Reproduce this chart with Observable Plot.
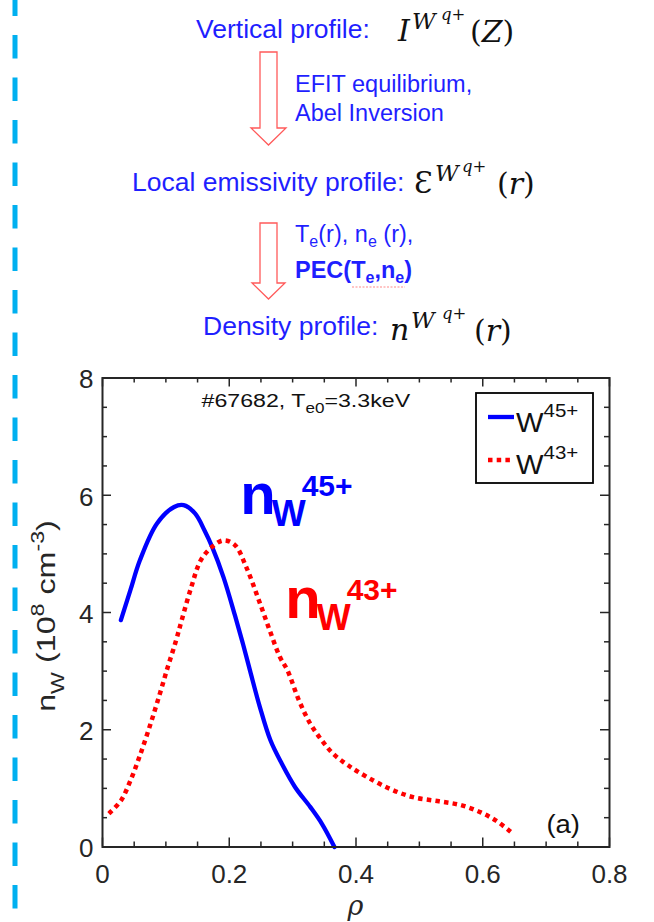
<!DOCTYPE html>
<html>
<head>
<meta charset="utf-8">
<script src="https://cdn.jsdelivr.net/npm/d3@7"></script>
<script src="https://cdn.jsdelivr.net/npm/@observablehq/plot@0.6"></script>
<style>
  html, body { margin: 0; padding: 0; background: #fff; }
  #page { position: relative; width: 654px; height: 922px; overflow: hidden; background: #fff; }
  #rail, #flow { position: absolute; left: 0; top: 0; }
  #chart { position: absolute; left: 0; top: 360px; }
</style>
</head>
<body>
<div id="page">
  <svg id="flow" width="654" height="360"></svg>
  <div id="chart"></div>
  <svg id="rail" width="654" height="922"></svg>
</div>
<script>
// W45+ density profile (solid blue)
const rhoW45 = [0.029, 0.044, 0.059, 0.086, 0.113, 0.128, 0.146, 0.161, 0.173, 0.191, 0.209, 0.222, 0.233, 0.248, 0.265, 0.283, 0.304, 0.328, 0.346, 0.366];
const nW45   = [3.87, 4.38, 4.89, 5.52, 5.80, 5.83, 5.69, 5.40, 5.12, 4.60, 3.95, 3.45, 3.00, 2.40, 1.82, 1.42, 1.02, 0.68, 0.40, 0.00];

// W43+ density profile (dotted red)
const rhoW43 = [0.010, 0.029, 0.044, 0.059, 0.074, 0.089, 0.103, 0.116, 0.125, 0.140, 0.155, 0.173, 0.191, 0.209, 0.227, 0.245, 0.262, 0.280, 0.292, 0.310, 0.328, 0.346, 0.364, 0.388, 0.418, 0.454, 0.490, 0.531, 0.567, 0.597, 0.621, 0.645];
const nW43   = [0.57, 0.79, 1.13, 1.56, 2.04, 2.56, 3.07, 3.52, 3.87, 4.43, 4.89, 5.12, 5.23, 5.15, 4.77, 4.26, 3.75, 3.24, 3.01, 2.50, 2.10, 1.82, 1.59, 1.39, 1.19, 0.99, 0.85, 0.78, 0.71, 0.59, 0.45, 0.25];

// Axis ticks
const xMajor = [0, 0.2, 0.4, 0.6, 0.8];
const xMinor = [0.05, 0.1, 0.15, 0.25, 0.3, 0.35, 0.45, 0.5, 0.55, 0.65, 0.7, 0.75];
const yMajor = [0, 2, 4, 6, 8];
const yMinor = [0.5, 1, 1.5, 2.5, 3, 3.5, 4.5, 5, 5.5, 6.5, 7, 7.5];

const BLUE = "#0000ff", RED = "#ff0000", INK = "#262626", TEXT_BLUE = "#1f1fff";
const SANS = "'Liberation Sans', Arial, Helvetica, sans-serif";
const MATH = "'DejaVu Serif', 'Liberation Serif', serif";

// Append a text element built from styled runs (sub/superscripts via dy shifts)
function rich(parent, opts, runs) {
  const t = parent.append("text")
    .attr("x", opts.x).attr("y", opts.y)
    .attr("text-anchor", opts.anchor || "start")
    .attr("font-family", opts.family || SANS)
    .attr("font-size", opts.size)
    .attr("font-weight", opts.weight || "normal")
    .attr("font-style", opts.style || "normal")
    .attr("fill", opts.fill || INK);
  if (opts.transform) t.attr("transform", opts.transform);
  let shift = 0;
  for (const r of runs) {
    const s = t.append("tspan").text(r.t);
    const target = r.dy || 0;
    if (target - shift !== 0) s.attr("dy", target - shift);
    shift = target;
    if (r.x !== undefined) s.attr("x", r.x);
    if (r.size) s.attr("font-size", r.size);
    if (r.weight) s.attr("font-weight", r.weight);
    if (r.style) s.attr("font-style", r.style);
    if (r.family) s.attr("font-family", r.family);
  }
  return t;
}
// horizontal widening about a fixed x
const widen = (x0, k) => `translate(${x0},0) scale(${k},1) translate(${-x0},0)`;

// ---------- Processing chain above the plot ----------
const flow = d3.select("#flow");

function hollowArrow(a) {
  const pts = [
    [a.left, a.top], [a.right, a.top], [a.right, a.neck],
    [a.headRight, a.neck], [(a.left + a.right) / 2, a.tip],
    [a.headLeft, a.neck], [a.left, a.neck]
  ];
  flow.append("polygon")
    .attr("points", pts.map(p => p.join(",")).join(" "))
    .attr("fill", "none").attr("stroke", "#ff5a5a").attr("stroke-width", 1.3);
}
hollowArrow({left: 260, right: 277, top: 52, neck: 128, headLeft: 251, headRight: 286, tip: 145});
hollowArrow({left: 260, right: 277, top: 223, neck: 283, headLeft: 252, headRight: 285, tip: 299});

// Row headings
rich(flow, {x: 196, y: 38, size: 26.5, fill: TEXT_BLUE}, [{t: "Vertical profile:"}]);
rich(flow, {x: 132, y: 191, size: 26.5, fill: TEXT_BLUE}, [{t: "Local emissivity profile:"}]);
rich(flow, {x: 203, y: 335, size: 26.5, fill: TEXT_BLUE}, [{t: "Density profile:"}]);

// Steps beside the arrows
rich(flow, {x: 295, y: 92, size: 23.5, fill: TEXT_BLUE}, [{t: "EFIT equilibrium,"}]);
rich(flow, {x: 295, y: 121, size: 23.5, fill: TEXT_BLUE}, [{t: "Abel Inversion"}]);
rich(flow, {x: 295, y: 242, size: 23.5, fill: TEXT_BLUE}, [
  {t: "T"}, {t: "e", size: 16, dy: 5}, {t: "(r), n"}, {t: "e", size: 16, dy: 5}, {t: " (r),"}
]);
rich(flow, {x: 295, y: 278, size: 23.5, weight: "bold", fill: TEXT_BLUE}, [
  {t: "PEC(T"}, {t: "e", size: 16, dy: 5}, {t: ",n"}, {t: "e", size: 16, dy: 5}, {t: ")"}
]);
flow.append("line").attr("x1", 352).attr("x2", 405).attr("y1", 287).attr("y2", 287)
  .attr("stroke", "#ff8a8a").attr("stroke-width", 1.2).attr("stroke-dasharray", "2,1.5");

// Math expressions: symbol with W^{q+} superscript and an argument in parentheses
function mathExpr(m) {
  const g = flow.append("g").attr("font-family", MATH).attr("fill", "#111");
  g.append("text").attr("x", m.x0).attr("y", m.base).attr("font-size", 30)
    .attr("font-style", m.symItalic ? "italic" : "normal").text(m.sym);
  g.append("text").attr("x", m.xW).attr("y", m.base - 12).attr("font-size", 23)
    .attr("font-style", "italic").text("W");
  const q = g.append("text").attr("x", m.xq).attr("y", m.base - 21).attr("font-size", 16.5);
  q.append("tspan").attr("font-style", "italic").text("q");
  q.append("tspan").text("+");
  const a = g.append("text").attr("x", m.xp).attr("y", m.base + 1).attr("font-size", 30);
  a.append("tspan").text("(");
  a.append("tspan").attr("font-style", "italic").text(m.arg);
  a.append("tspan").text(")");
}
mathExpr({sym: "I", symItalic: true, x0: 398, xW: 412, xq: 441, xp: 470, arg: "Z", base: 41});
mathExpr({sym: "\u0190", symItalic: false, x0: 414, xW: 435, xq: 462, xp: 497, arg: "r", base: 193});
mathExpr({sym: "n", symItalic: true, x0: 390, xW: 411, xq: 442, xp: 474, arg: "r", base: 340});

// Dashed rail on the left edge
d3.select("#rail").append("line")
  .attr("x1", 15).attr("x2", 15).attr("y1", 0).attr("y2", 922)
  .attr("stroke", "#00b0f0").attr("stroke-width", 5)
  .attr("stroke-dasharray", "23.5,19").attr("stroke-dashoffset", 7.5);

// ---------- Plot ----------
const W = 654, H = 562;
const mL = 102, mR = 45, mT = 17.5, mB = 75.5;
const pw = W - mL - mR, ph = H - mT - mB;
const major = 9, minor = 5;

const w45 = rhoW45.map((r, i) => ({rho: r, n: nW45[i]}));
const w43 = rhoW43.map((r, i) => ({rho: r, n: nW43[i]}));
const fmtX = d => String(+d.toFixed(1));
const fmtY = d => String(d);

const tickStyle = {stroke: INK, strokeWidth: 1.5};
const chart = Plot.plot({
  width: W, height: H,
  marginLeft: mL, marginRight: mR, marginTop: mT, marginBottom: mB,
  x: {domain: [0, 0.8]},
  y: {domain: [0, 8]},
  style: {fontFamily: SANS, color: INK, background: "transparent", overflow: "visible"},
  marks: [
    // inward ticks on all four sides
    Plot.ruleX(xMajor, {x: d => d, insetTop: ph - major, ...tickStyle}),
    Plot.ruleX(xMinor, {x: d => d, insetTop: ph - minor, ...tickStyle}),
    Plot.ruleX(xMajor, {x: d => d, insetBottom: ph - major, ...tickStyle}),
    Plot.ruleX(xMinor, {x: d => d, insetBottom: ph - minor, ...tickStyle}),
    Plot.ruleY(yMajor, {y: d => d, insetRight: pw - major, ...tickStyle}),
    Plot.ruleY(yMinor, {y: d => d, insetRight: pw - minor, ...tickStyle}),
    Plot.ruleY(yMajor, {y: d => d, insetLeft: pw - major, ...tickStyle}),
    Plot.ruleY(yMinor, {y: d => d, insetLeft: pw - minor, ...tickStyle}),
    Plot.line(w45, {x: "rho", y: "n", stroke: BLUE, strokeWidth: 4.3, curve: "catmull-rom"}),
    Plot.line(w43, {x: "rho", y: "n", stroke: RED, strokeWidth: 4.5, curve: "catmull-rom",
      strokeDasharray: "4.5,4.2", strokeLinecap: "butt"}),
    Plot.frame({stroke: INK, strokeWidth: 2}),
    Plot.axisX(xMajor, {tickSize: 0, tickPadding: 18, fontSize: 26, tickFormat: fmtX, label: null, fill: INK}),
    Plot.axisY(yMajor, {tickSize: 0, tickPadding: 9, fontSize: 26, tickFormat: fmtY, label: null, fill: INK, dy: 2})
  ]
});
document.getElementById("chart").appendChild(chart);

const svg = d3.select(chart);
const sx = chart.scale("x"), sy = chart.scale("y");
const X = v => sx.apply(v), Y = v => sy.apply(v);

// panel tag
const tagX = mL + pw - 29;
svg.append("text").attr("x", tagX).attr("y", mT + ph - 13.5).attr("text-anchor", "end")
  .attr("font-family", SANS).attr("font-size", 25).attr("fill", "#111")
  .attr("transform", widen(tagX, 1.1)).text("(a)");

// x-axis title
svg.append("text").attr("x", mL + pw / 2).attr("y", H - 7).attr("text-anchor", "middle")
  .attr("font-family", MATH).attr("font-style", "italic").attr("font-size", 27)
  .attr("fill", INK).text("\u03c1");

// y-axis title, set wide along its length
rich(svg, {x: 0, y: 0, anchor: "middle", size: 25,
  transform: `translate(55,${(mT + H - mB) / 2 + 4}) rotate(-90) scale(1.29,1)`}, [
  {t: "n"}, {t: "W", size: 18, dy: 9}, {t: " (10"}, {t: "8", size: 18, dy: -11}, {t: " cm"}, {t: "-3", size: 18, dy: -11}, {t: ")"}
]);

// shot annotation
const ax0 = X(0.157);
rich(svg, {x: ax0, y: Y(7.5), size: 19, fill: "#111", transform: widen(ax0, 1.22)}, [
  {t: "#67682, T"}, {t: "e0", size: 14, dy: 6}, {t: "=3.3keV"}
]);

// curve labels
rich(svg, {x: X(0.218), y: Y(5.67), size: 58, weight: "bold", fill: BLUE}, [
  {t: "n"}, {t: "W", size: 36, dy: 12, x: X(0.268)}, {t: "45+", size: 30, dy: -18, x: X(0.315)}
]);
rich(svg, {x: X(0.289), y: Y(3.9), size: 58, weight: "bold", fill: RED}, [
  {t: "n"}, {t: "W", size: 36, dy: 12, x: X(0.339)}, {t: "43+", size: 30, dy: -18, x: X(0.386)}
]);

// legend in the upper-right corner of the frame
const lg = svg.append("g");
const lx = mL + pw - 16 - 117, ly = mT + 15.5;
lg.append("rect").attr("x", lx).attr("y", ly).attr("width", 117).attr("height", 90)
  .attr("fill", "white").attr("stroke", "#000").attr("stroke-width", 1.8);
lg.append("line").attr("x1", lx + 12).attr("x2", lx + 38).attr("y1", ly + 24).attr("y2", ly + 24)
  .attr("stroke", BLUE).attr("stroke-width", 4.3);
lg.append("line").attr("x1", lx + 12).attr("x2", lx + 36).attr("y1", ly + 67).attr("y2", ly + 67)
  .attr("stroke", RED).attr("stroke-width", 4.5).attr("stroke-dasharray", "4.5,4.2");
rich(lg, {x: lx + 40, y: ly + 39, size: 27, fill: "#111", transform: widen(lx + 40, 1.08)},
  [{t: "W"}, {t: "45+", size: 19, dy: -15}]);
rich(lg, {x: lx + 40, y: ly + 81, size: 27, fill: "#111", transform: widen(lx + 40, 1.08)},
  [{t: "W"}, {t: "43+", size: 19, dy: -15}]);
</script>
</body>
</html>
